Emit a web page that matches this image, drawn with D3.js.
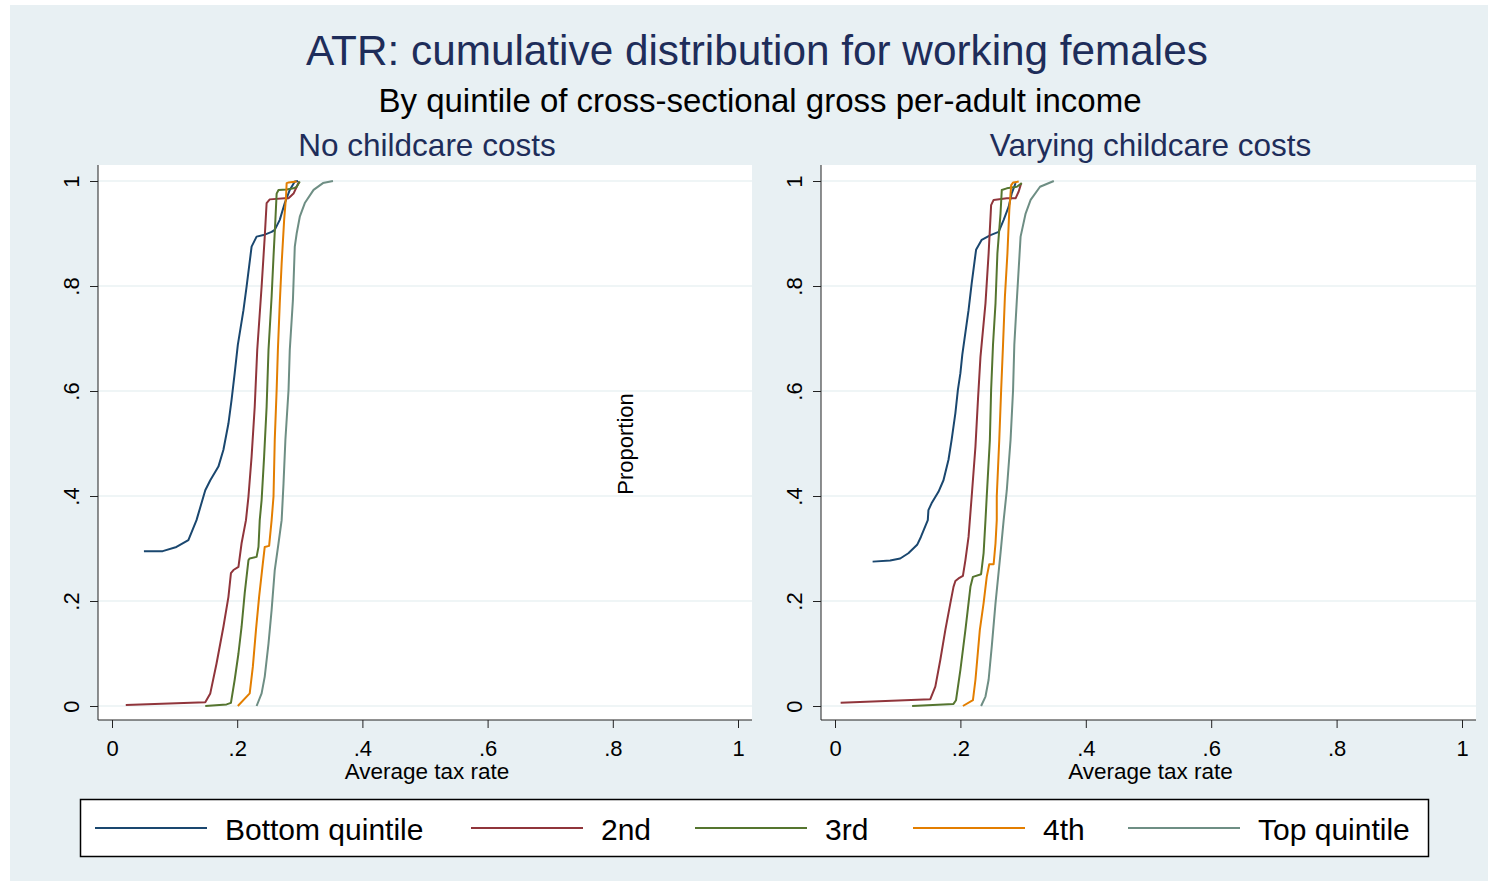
<!DOCTYPE html>
<html>
<head>
<meta charset="utf-8">
<script src="https://cdn.jsdelivr.net/npm/d3@7"></script>
<style>
  html, body { margin: 0; padding: 0; background: #ffffff; }
  svg { display: block; }
  text { font-family: "Liberation Sans", Arial, Helvetica, sans-serif; }
</style>
</head>
<body>
<svg id="chart" width="1490" height="881"></svg>
<script>
// ---- Data: cumulative share of working females by average tax rate ----
const quintiles = ["Bottom quintile", "2nd", "3rd", "4th", "Top quintile"];
const panelTitles = ["No childcare costs", "Varying childcare costs"];
const xTickValues = [0, 0.2, 0.4, 0.6, 0.8, 1];
const xTickLabels = ["0", ".2", ".4", ".6", ".8", "1"];
const yTickValues = [0, 0.2, 0.4, 0.6, 0.8, 1];
const yTickLabels = ["0", ".2", ".4", ".6", ".8", "1"];

// [average tax rate, cumulative proportion]
const noCareBottom = [[0.051,0.295],[0.081,0.295],[0.103,0.303],[0.122,0.316],[0.135,0.354],[0.149,0.411],[0.157,0.430],[0.170,0.456],[0.178,0.488],[0.186,0.538],[0.191,0.583],[0.196,0.634],[0.201,0.688],[0.210,0.754],[0.215,0.799],[0.223,0.875],[0.231,0.894],[0.242,0.897],[0.255,0.903],[0.260,0.907],[0.268,0.926],[0.276,0.958],[0.284,0.983],[0.292,0.999],[0.297,1.0]];
const noCare2nd = [[0.022,0.002],[0.149,0.007],[0.157,0.024],[0.167,0.081],[0.178,0.151],[0.186,0.208],[0.190,0.253],[0.194,0.259],[0.202,0.265],[0.207,0.310],[0.214,0.354],[0.218,0.399],[0.223,0.475],[0.228,0.570],[0.232,0.678],[0.239,0.799],[0.244,0.894],[0.247,0.958],[0.252,0.965],[0.276,0.967],[0.282,0.967],[0.290,0.976],[0.295,0.989],[0.299,0.999]];
const noCare3rd = [[0.149,0.0],[0.183,0.003],[0.190,0.006],[0.196,0.050],[0.202,0.100],[0.207,0.151],[0.212,0.215],[0.218,0.278],[0.220,0.281],[0.231,0.284],[0.234,0.303],[0.236,0.354],[0.239,0.392],[0.243,0.475],[0.247,0.570],[0.250,0.678],[0.255,0.780],[0.258,0.856],[0.261,0.926],[0.263,0.976],[0.266,0.983],[0.279,0.984],[0.290,0.986],[0.295,0.989],[0.300,0.999]];
const noCare4th = [[0.201,0.0],[0.220,0.024],[0.225,0.075],[0.230,0.145],[0.235,0.208],[0.241,0.272],[0.244,0.303],[0.251,0.305],[0.255,0.354],[0.258,0.399],[0.260,0.507],[0.263,0.602],[0.265,0.678],[0.268,0.767],[0.271,0.843],[0.275,0.926],[0.278,0.970],[0.279,0.996],[0.282,0.997],[0.295,0.999]];
const noCareTop = [[0.231,0.0],[0.239,0.024],[0.244,0.056],[0.250,0.119],[0.255,0.183],[0.260,0.259],[0.266,0.310],[0.271,0.354],[0.274,0.424],[0.277,0.507],[0.282,0.602],[0.284,0.678],[0.289,0.773],[0.292,0.875],[0.295,0.900],[0.300,0.932],[0.308,0.958],[0.322,0.983],[0.337,0.996],[0.353,1.0]];

const varCareBottom = [[0.060,0.275],[0.088,0.277],[0.104,0.281],[0.117,0.291],[0.131,0.307],[0.137,0.322],[0.148,0.354],[0.149,0.373],[0.154,0.386],[0.165,0.408],[0.173,0.430],[0.181,0.469],[0.186,0.507],[0.192,0.558],[0.196,0.602],[0.200,0.634],[0.203,0.669],[0.213,0.754],[0.218,0.805],[0.225,0.869],[0.234,0.888],[0.248,0.897],[0.261,0.903],[0.269,0.926],[0.277,0.951],[0.282,0.977],[0.288,0.996]];
const varCare2nd = [[0.009,0.006],[0.152,0.013],[0.160,0.037],[0.168,0.088],[0.176,0.145],[0.184,0.196],[0.189,0.227],[0.192,0.238],[0.197,0.243],[0.204,0.248],[0.208,0.278],[0.213,0.322],[0.218,0.399],[0.224,0.494],[0.228,0.583],[0.232,0.665],[0.240,0.767],[0.245,0.862],[0.249,0.954],[0.253,0.964],[0.274,0.967],[0.288,0.967],[0.293,0.980],[0.297,0.996]];
const varCare3rd = [[0.123,0.0],[0.189,0.004],[0.193,0.011],[0.200,0.069],[0.208,0.145],[0.216,0.227],[0.220,0.246],[0.233,0.251],[0.237,0.291],[0.240,0.354],[0.242,0.399],[0.247,0.507],[0.249,0.602],[0.252,0.688],[0.256,0.767],[0.259,0.862],[0.264,0.938],[0.266,0.983],[0.274,0.986],[0.290,0.989],[0.298,0.996]];
const varCare4th = [[0.204,0.0],[0.220,0.011],[0.224,0.050],[0.231,0.145],[0.237,0.196],[0.242,0.246],[0.246,0.270],[0.253,0.270],[0.256,0.310],[0.258,0.354],[0.258,0.399],[0.262,0.507],[0.265,0.602],[0.268,0.688],[0.271,0.780],[0.275,0.862],[0.278,0.945],[0.281,0.992],[0.284,0.997],[0.293,0.999]];
const varCareTop = [[0.233,0.0],[0.240,0.018],[0.245,0.050],[0.250,0.113],[0.256,0.196],[0.264,0.291],[0.269,0.354],[0.274,0.411],[0.280,0.507],[0.284,0.602],[0.286,0.688],[0.290,0.773],[0.296,0.894],[0.304,0.938],[0.312,0.964],[0.327,0.989],[0.349,1.0]];

const noCareSeries = [noCareBottom, noCare2nd, noCare3rd, noCare4th, noCareTop];
const varCareSeries = [varCareBottom, varCare2nd, varCare3rd, varCare4th, varCareTop];

// ---- Styling ----
const seriesColors = ["#1a476f", "#90353b", "#55752f", "#e37e00", "#6e8e84"];
const titleColor = "#1e2d5a";
const regionColor = "#e8f0f3";
const gridColor = "#eaf2f3";
const axisColor = "#222222";

const svg = d3.select("#chart");

// outer graph region
svg.append("rect")
  .attr("x", 10).attr("y", 5).attr("width", 1478).attr("height", 876)
  .attr("fill", regionColor);

// titles
svg.append("text")
  .attr("x", 757).attr("y", 65)
  .attr("text-anchor", "middle")
  .attr("font-size", 42.3).attr("fill", titleColor)
  .text("ATR: cumulative distribution for working females");

svg.append("text")
  .attr("x", 760).attr("y", 112)
  .attr("text-anchor", "middle")
  .attr("font-size", 33).attr("fill", "#000")
  .text("By quintile of cross-sectional gross per-adult income");

// panel layout
const panels = [
  { left: 98, right: 752, top: 165, bottom: 720, series: noCareSeries, title: panelTitles[0] },
  { left: 821, right: 1476, top: 165, bottom: 720, series: varCareSeries, title: panelTitles[1] }
];

panels.forEach((p, i) => {
  const g = svg.append("g");

  const x = d3.scaleLinear().domain([0, 1]).range([p.left + 14, p.right - 14]);
  const y = d3.scaleLinear().domain([0, 1]).range([p.bottom - 14, p.top + 16]);

  // panel subtitle
  g.append("text")
    .attr("x", (p.left + p.right) / 2 + 2).attr("y", 156)
    .attr("text-anchor", "middle")
    .attr("font-size", 31.5).attr("fill", titleColor)
    .text(p.title);

  // plot area
  g.append("rect")
    .attr("x", p.left).attr("y", p.top)
    .attr("width", p.right - p.left).attr("height", p.bottom - p.top)
    .attr("fill", "#ffffff");

  // horizontal grid lines
  g.append("g").selectAll("line")
    .data(yTickValues)
    .join("line")
    .attr("x1", p.left).attr("x2", p.right)
    .attr("y1", d => y(d)).attr("y2", d => y(d))
    .attr("stroke", gridColor).attr("stroke-width", 1.5);

  // y axis
  const yAxis = d3.axisLeft(y)
    .tickValues(yTickValues)
    .tickFormat((d, k) => yTickLabels[k])
    .tickSize(8)
    .tickSizeOuter(0);
  const yg = g.append("g")
    .attr("transform", `translate(${p.left},0)`)
    .call(yAxis);
  yg.select(".domain").attr("d", `M0,${p.top}V${p.bottom}`).attr("stroke", axisColor);
  yg.selectAll(".tick line").attr("stroke", axisColor);
  yg.selectAll(".tick text")
    .attr("transform", "rotate(-90)")
    .attr("x", 0).attr("y", -19).attr("dy", 0)
    .attr("text-anchor", "middle")
    .attr("font-size", 22).attr("fill", "#000")
    .attr("font-family", "Liberation Sans, Arial, sans-serif");

  // x axis
  const xAxis = d3.axisBottom(x)
    .tickValues(xTickValues)
    .tickFormat((d, k) => xTickLabels[k])
    .tickSize(8)
    .tickSizeOuter(0);
  const xg = g.append("g")
    .attr("transform", `translate(0,${p.bottom})`)
    .call(xAxis);
  xg.select(".domain").attr("d", `M${p.left},0H${p.right}`).attr("stroke", axisColor);
  xg.selectAll(".tick line").attr("stroke", axisColor);
  xg.selectAll(".tick text")
    .attr("y", 36).attr("dy", 0)
    .attr("font-size", 22).attr("fill", "#000")
    .attr("font-family", "Liberation Sans, Arial, sans-serif");

  // x axis title
  g.append("text")
    .attr("x", (p.left + p.right) / 2 + 2).attr("y", 779)
    .attr("text-anchor", "middle")
    .attr("font-size", 22.5).attr("fill", "#000")
    .text("Average tax rate");

  // cumulative distribution curves
  const line = d3.line().x(d => x(d[0])).y(d => y(d[1]));
  g.append("g").selectAll("path")
    .data(p.series)
    .join("path")
    .attr("d", line)
    .attr("fill", "none")
    .attr("stroke", (d, k) => seriesColors[k])
    .attr("stroke-width", 2)
    .attr("stroke-linejoin", "round");
});

// shared y axis title
svg.append("text")
  .attr("transform", "translate(633,444) rotate(-90)")
  .attr("text-anchor", "middle")
  .attr("font-size", 22).attr("fill", "#000")
  .text("Proportion");

// legend
const legend = svg.append("g");
legend.append("rect")
  .attr("x", 80.5).attr("y", 799.5).attr("width", 1348).attr("height", 57)
  .attr("fill", "#ffffff").attr("stroke", "#000").attr("stroke-width", 1.5);

const legendLineStart = [95, 471, 695, 913, 1128];
const legendItems = legend.selectAll("g.item")
  .data(quintiles)
  .join("g")
  .attr("class", "item")
  .attr("transform", (d, k) => `translate(${legendLineStart[k]},0)`);
legendItems.append("line")
  .attr("x1", 0).attr("x2", 112)
  .attr("y1", 828).attr("y2", 828)
  .attr("stroke", (d, k) => seriesColors[k])
  .attr("stroke-width", 2);
legendItems.append("text")
  .attr("x", 130).attr("y", 840)
  .attr("font-size", 30).attr("fill", "#000")
  .text(d => d);
</script>
</body>
</html>
